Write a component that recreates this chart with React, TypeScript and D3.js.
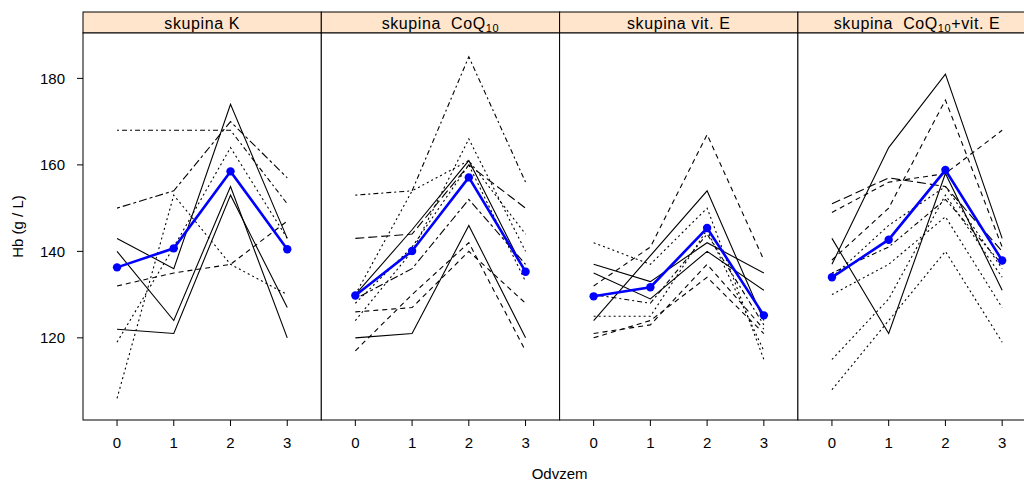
import React from 'react';
import * as d3 from 'd3';

// Sampling occasions (x axis) and axis ticks
const visits = [0, 1, 2, 3];
const hbTicks = [120, 140, 160, 180];

// Individual Hb profiles (g/L) per group, one row per animal
const hbK = [
  [168, 168, 168, 151],
  [150, 154, 170, 157],
  [143, 136, 174, 143],
  [140, 124, 155, 120],
  [132, 135, 137, 147],
  [122, 121, 153, 127],
  [119, 141, 164, 143],
  [106, 153, 137, 130],
];
const hbCoQ = [
  [153, 154, 185, 156],
  [130, 154, 161, 144],
  [143, 144, 160, 150],
  [120, 121, 146, 120],
  [117, 130, 142, 117],
  [126, 127, 140, 128],
  [124, 140, 166, 140],
  [130, 145, 161, 135],
  [129, 136, 152, 137],
  [128, 141, 160, 133],
];
const hbE = [
  [142, 137, 150, 115],
  [137, 133, 142, 135],
  [135, 129, 140, 131],
  [132, 141, 167, 138],
  [125, 125, 145, 117],
  [124, 139, 154, 124],
  [121, 123, 137, 122],
  [120, 124, 134, 121],
  [130, 128, 144, 123],
];
const hbCoQE = [
  [137, 164, 181, 143],
  [143, 121, 158, 131],
  [151, 157, 155, 140],
  [149, 156, 158, 168],
  [138, 150, 175, 141],
  [135, 141, 152, 137],
  [134, 146, 155, 136],
  [130, 137, 148, 127],
  [115, 129, 153, 134],
  [108, 124, 140, 119],
];

// Group means
const meanK = [136.3, 140.7, 158.5, 140.5];
const meanCoQ = [129.8, 140.1, 157.1, 135.3];
const meanE = [129.6, 131.7, 145.4, 125.2];
const meanCoQE = [134.0, 142.7, 158.8, 137.9];

// Line types of the individual profiles
const ltyK = ['dotdash', 'twodash', 'solid', 'solid', 'dashed', 'solid', 'dotted', 'dotted'];
const ltyCoQ = ['dotdash', 'dotted', 'longdash', 'solid', 'dashed', 'dashed', 'dotted', 'solid', 'twodash', 'dotted'];
const ltyE = ['dotted', 'solid', 'solid', 'dashed', 'dotted', 'solid', 'dashed', 'dashed', 'dotdash'];
const ltyCoQE = ['solid', 'solid', 'longdash', 'dashed', 'dashed', 'dotdash', 'dotted', 'dotted', 'dotted', 'dotted'];

const dashes: Record<string, string | undefined> = {
  solid: undefined,
  dashed: '5 4',
  dotted: '2 3',
  dotdash: '2 3 5 3',
  longdash: '9 4',
  twodash: '3 3 8 3',
};

const W = 1024;
const H = 481;
const panelLeft = 83;
const panelW = 238.3;
const panelTop = 33;
const panelBottom = 420;
const stripTop = 12;
const FONT = '"Liberation Sans", Arial, sans-serif';

const y = d3.scaleLinear().domain([101.0, 190.5]).range([panelBottom, panelTop]);

const panels = [
  { hb: hbK, lty: ltyK, mean: meanK },
  { hb: hbCoQ, lty: ltyCoQ, mean: meanCoQ },
  { hb: hbE, lty: ltyE, mean: meanE },
  { hb: hbCoQE, lty: ltyCoQE, mean: meanCoQE },
];

function StripLabel({ i, cx }: { i: number; cx: number }) {
  const common = {
    x: cx,
    y: 29,
    textAnchor: 'middle' as const,
    fontFamily: FONT,
    fontSize: 16,
    letterSpacing: 0.6,
    fill: '#000',
    style: { whiteSpace: 'pre' as const },
  };
  if (i === 0) return <text {...common}>skupina K</text>;
  if (i === 2) return <text {...common}>skupina vit. E</text>;
  return (
    <text {...common}>
      {'skupina  CoQ'}
      <tspan fontSize={11} dy={3}>10</tspan>
      {i === 3 ? <tspan dy={-3}>+vit. E</tspan> : null}
    </text>
  );
}

export default function App() {
  return (
    <svg
      width={W}
      height={H}
      style={{ position: 'absolute', left: 0, top: 0, background: '#fff' }}
    >
      {panels.map((p, i) => {
        const x0 = panelLeft + i * panelW;
        const x = d3.scaleLinear().domain([-0.6, 3.6]).range([x0, x0 + panelW]);
        const line = d3
          .line<number>()
          .x((_, j) => x(visits[j]))
          .y((v) => y(v));
        return (
          <g key={i}>
            <rect x={x0} y={stripTop} width={panelW} height={panelTop - stripTop} fill="#ffe5cc" stroke="#000" strokeWidth={1} />
            <StripLabel i={i} cx={x0 + panelW / 2} />
            <rect x={x0} y={panelTop} width={panelW} height={panelBottom - panelTop} fill="#fff" stroke="#000" strokeWidth={1} />
            {p.hb.map((row, k) => (
              <path
                key={k}
                d={line(row) || ''}
                fill="none"
                stroke="#000"
                strokeWidth={1.1}
                strokeDasharray={dashes[p.lty[k]]}
              />
            ))}
            <path d={line(p.mean) || ''} fill="none" stroke="#0000ff" strokeWidth={2.6} />
            {p.mean.map((v, j) => (
              <circle key={j} cx={x(visits[j])} cy={y(v)} r={4.2} fill="#0000ff" />
            ))}
            {visits.map((v) => (
              <g key={v}>
                <line x1={x(v)} x2={x(v)} y1={panelBottom} y2={panelBottom + 6} stroke="#000" />
                <text x={x(v)} y={448} textAnchor="middle" fontFamily={FONT} fontSize={15} fill="#000">
                  {v}
                </text>
              </g>
            ))}
          </g>
        );
      })}
      {hbTicks.map((t) => (
        <g key={t}>
          <line x1={panelLeft - 6} x2={panelLeft} y1={y(t)} y2={y(t)} stroke="#000" />
          <text x={65} y={y(t)} dy="0.36em" textAnchor="end" fontFamily={FONT} fontSize={15} fill="#000">
            {t}
          </text>
        </g>
      ))}
      <text
        transform={`translate(23, ${(panelTop + panelBottom) / 2}) rotate(-90)`}
        textAnchor="middle"
        fontFamily={FONT}
        fontSize={15}
        fill="#000"
      >
        Hb (g / L)
      </text>
      <text x={panelLeft + 2 * panelW} y={479} textAnchor="middle" fontFamily={FONT} fontSize={15} fill="#000">
        Odvzem
      </text>
    </svg>
  );
}
